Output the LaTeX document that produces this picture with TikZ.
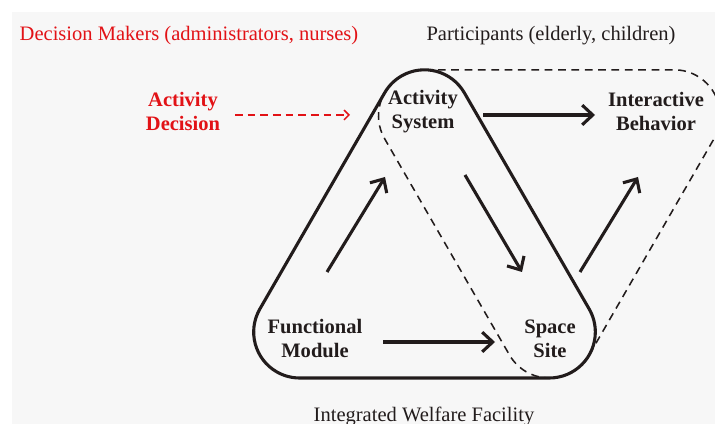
\documentclass[tikz,border=0pt]{standalone}
\usepackage{fontspec}
\setmainfont{Liberation Serif}
\usetikzlibrary{arrows.meta}
\definecolor{myred}{RGB}{226,18,22}
\definecolor{bggray}{RGB}{247,247,247}
\definecolor{ink}{RGB}{34,28,28}
\tikzset{
	txt/.style={
		align=center,
		inner sep=0pt,
		font=\fontsize{14.6}{17}\selectfont
	},
	part/.style={
		txt,
		font=\fontsize{14.6}{17}\selectfont\bfseries
	}
}

\begin{document}
\begin{tikzpicture}
	\tikzset{edge/.style={-{Straight Barb[length=7.5pt,width=14pt]}, line width=2.2pt, ink}}
	\tikzset{decision/.style={-{Straight Barb[length=3.5pt,width=7pt]}, line width=1.1pt, myred, dash pattern=on 5.5pt off 3.5pt}}
	\tikzset{facility/.style={line width=2.2pt, ink}}
	\tikzset{people/.style={line width=1.1pt, ink, dash pattern=on 5.5pt off 4pt}}
	
	\useasboundingbox (0,0) rectangle (17.875,10.6);
	\clip (0,0) rectangle (17.875,10.6);
	\fill[bggray] (0.3,0) rectangle (17.875,10.3);
	
	% participants (dashed) and facility (solid), corner radius 1.15
	\draw[people] (10.6125,8.855) -- ++(6.241,0) arc[start angle=90, end angle=-30, radius=1.15]
		-- ++(240:6.241) arc[start angle=-30, end angle=-150, radius=1.15]
		-- ++(120:6.241) arc[start angle=210, end angle=90, radius=1.15] -- cycle;
	\draw[facility] (7.492,1.15) -- ++(6.241,0) arc[start angle=-90, end angle=30, radius=1.15]
		-- ++(120:6.241) arc[start angle=30, end angle=150, radius=1.15]
		-- ++(240:6.241) arc[start angle=150, end angle=270, radius=1.15] -- cycle;
	
	\node(makers) at (4.725,9.7) [txt, myred] {Decision Makers (administrators, nurses)};
	\node(participants) at (13.775,9.7) [txt, ink] {Participants (elderly, children)};
	\node(decision) at (4.575,7.81) [part, myred] {Activity\\Decision};
	\node(system) at (10.575,7.81) [part, ink] {Activity\\System};
	\node(behavior) at (16.4,7.81) [part, ink] {Interactive\\Behavior};
	\node(module) at (7.875,2.14) [part, ink] {Functional\\Module};
	\node(site) at (13.75,2.14) [part, ink] {Space\\Site};
	\node(welfare) at (10.6,0.2) [txt, ink] {Integrated Welfare Facility};
	
	\coordinate(decision_out) at (5.875,7.725);
	\coordinate(system_in) at (8.75,7.725);
	\coordinate(system_out) at (12.075,7.725);
	\coordinate(behavior_in) at (14.875,7.725);
	\coordinate(module_up) at (8.175,3.8);
	\coordinate(system_low) at (9.625,6.175);
	\coordinate(system_down) at (11.625,6.225);
	\coordinate(site_up) at (13.05,3.8);
	\coordinate(site_out) at (14.5,3.8);
	\coordinate(behavior_low) at (15.95,6.175);
	\coordinate(module_out) at (9.575,2.05);
	\coordinate(site_in) at (12.375,2.05);
	
	\draw[decision](decision_out) -- (system_in);
	\draw[edge](system_out) -- (behavior_in);
	\draw[edge](module_up) -- (system_low);
	\draw[edge](system_down) -- (site_up);
	\draw[edge](site_out) -- (behavior_low);
	\draw[edge](module_out) -- (site_in);
\end{tikzpicture}
\end{document}
